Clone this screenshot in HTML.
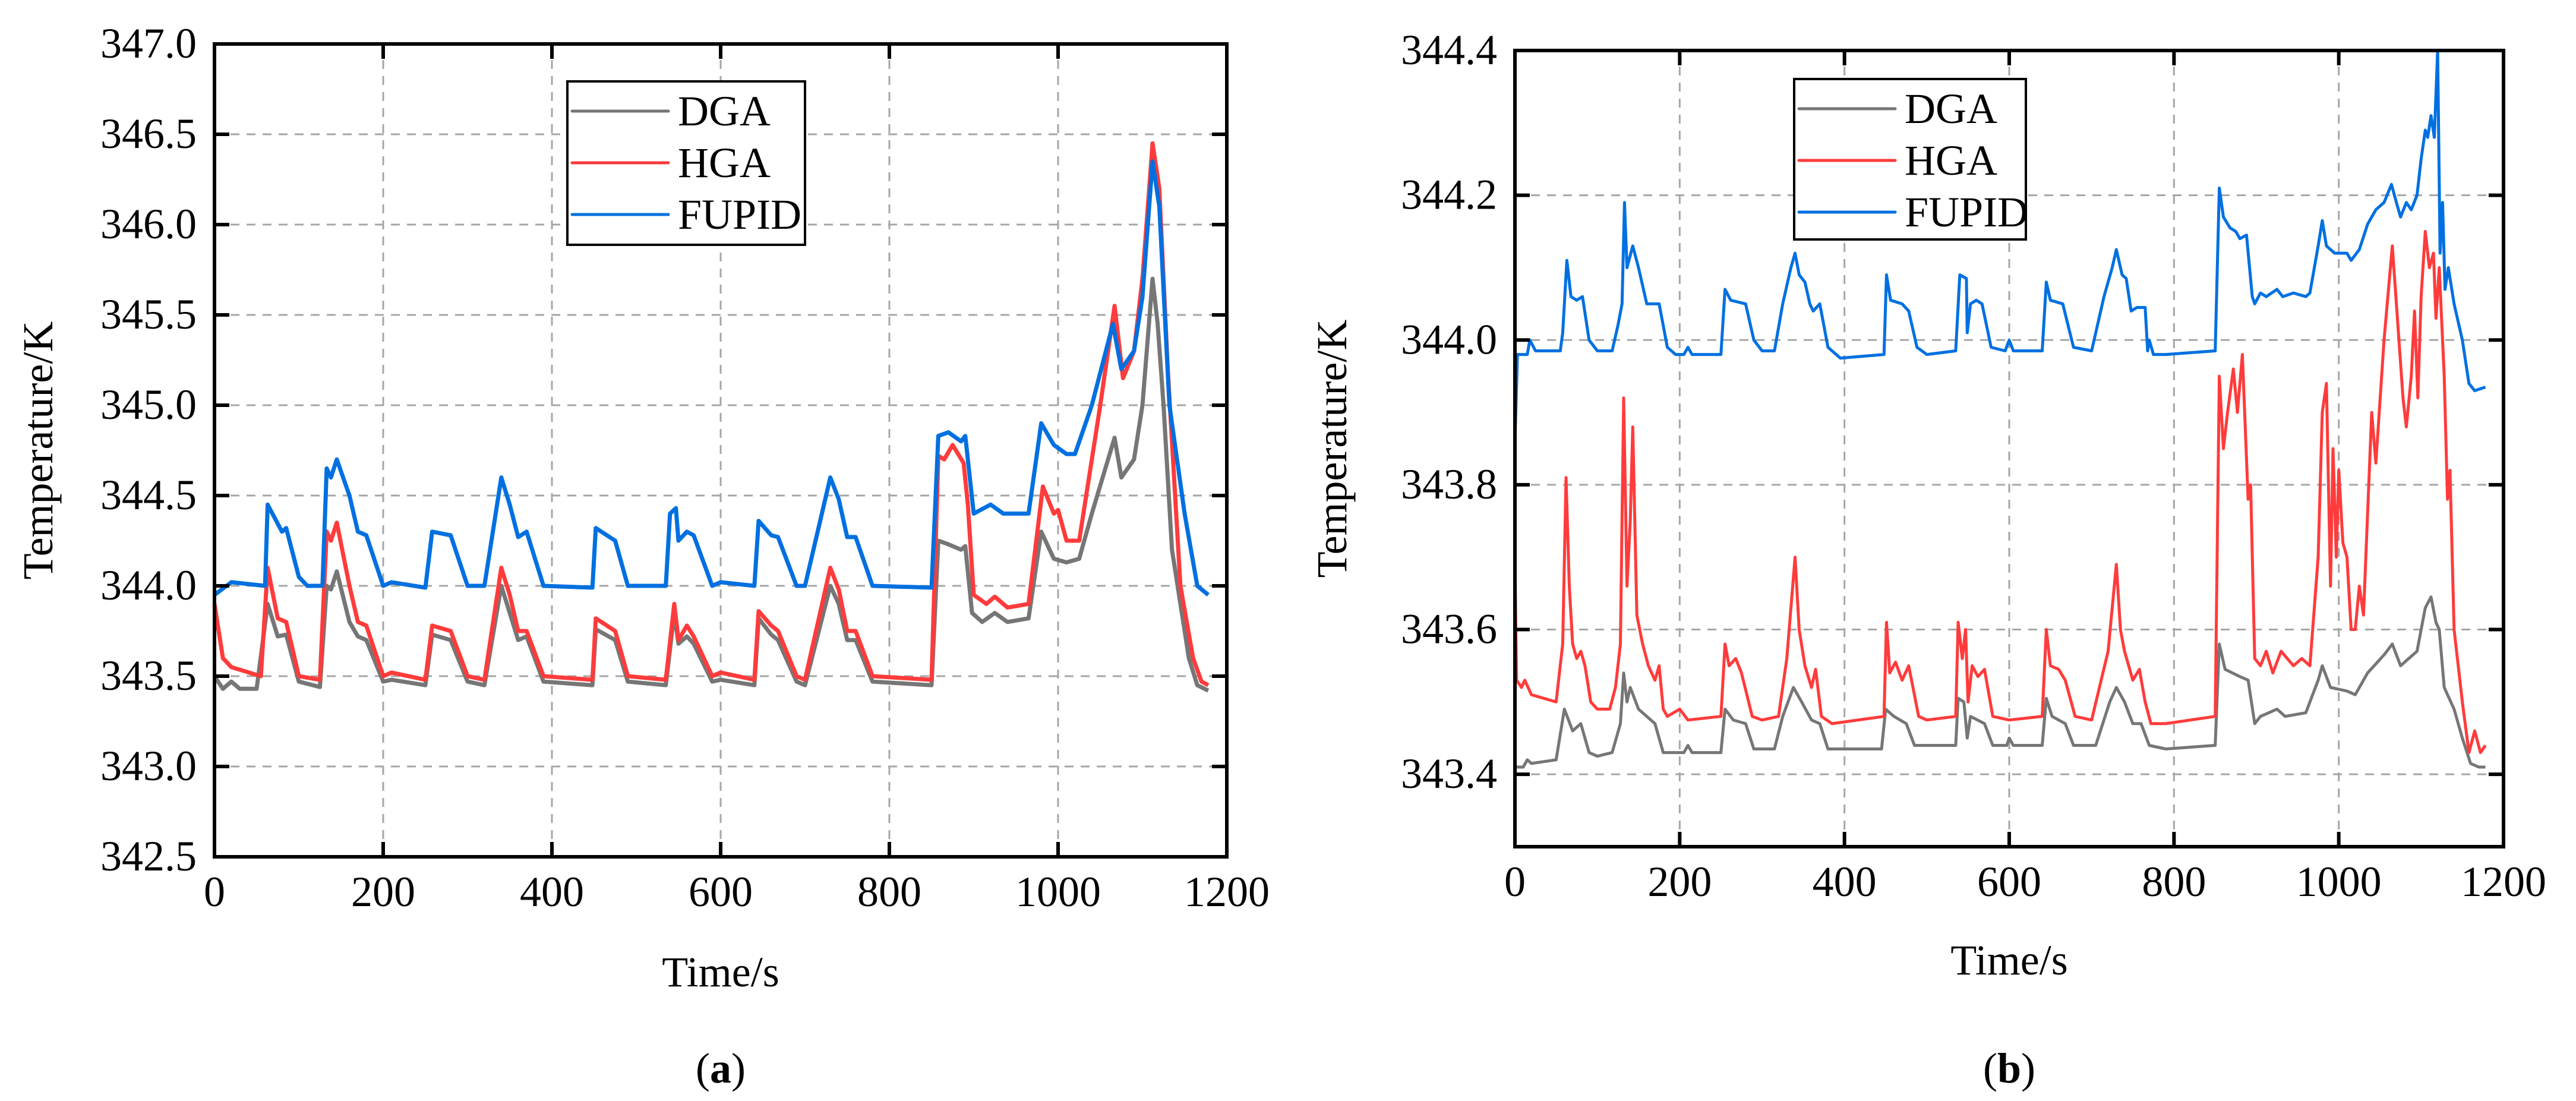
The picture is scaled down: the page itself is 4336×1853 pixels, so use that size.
<!DOCTYPE html>
<html><head><meta charset="utf-8"><style>
html,body{margin:0;padding:0;background:#fff;}
svg{display:block;font-family:"Liberation Serif","DejaVu Serif",serif;}
</style></head><body>
<svg id="fig" width="4336" height="1853" viewBox="0 0 4336 1853" xmlns="http://www.w3.org/2000/svg"></svg>
<script>
// ---- Panel (a) data ----
const aXTicks = [0,200,400,600,800,1000,1200];
const aYTicks = [342.5,343.0,343.5,344.0,344.5,345.0,345.5,346.0,346.5,347.0];
const aYLabels = ["342.5","343.0","343.5","344.0","344.5","345.0","345.5","346.0","346.5","347.0"];
const aDgaT = [0,10,20,30,50,63,75,85,100,125,133,138,145,160,170,180,200,210,250,258,280,300,320,340,350,360,370,390,448,452,475,490,535,545,550,560,568,590,600,640,645,660,668,690,700,730,740,750,760,780,850,858,870,885,890,898,910,925,940,965,980,995,1010,1025,1040,1067,1075,1090,1100,1112,1118,1125,1135,1155,1165,1178];
const aDgaV = [343.5,343.43,343.47,343.43,343.43,343.9,343.72,343.73,343.47,343.44,344.0,343.98,344.08,343.8,343.72,343.7,343.47,343.48,343.45,343.73,343.7,343.47,343.45,344.0,343.85,343.7,343.72,343.47,343.45,343.76,343.7,343.47,343.45,343.85,343.68,343.72,343.68,343.47,343.48,343.45,343.82,343.73,343.7,343.47,343.45,344.0,343.9,343.7,343.7,343.47,343.45,344.25,344.23,344.2,344.22,343.85,343.8,343.85,343.8,343.82,344.3,344.15,344.13,344.15,344.4,344.82,344.6,344.7,345.0,345.7,345.45,345.0,344.2,343.6,343.45,343.42];
const aHgaT = [0,10,20,55,63,75,85,100,125,133,138,145,160,170,180,200,210,250,258,280,300,320,340,350,360,370,390,448,452,475,490,535,545,550,560,568,590,600,640,645,660,668,690,700,730,740,750,760,780,850,858,865,875,888,893,900,915,925,940,965,982,995,1000,1010,1025,1040,1050,1067,1077,1090,1100,1108,1112,1120,1130,1145,1160,1170,1178];
const aHgaV = [343.9,343.6,343.55,343.5,344.1,343.82,343.8,343.5,343.48,344.3,344.25,344.35,344.0,343.8,343.78,343.5,343.52,343.48,343.78,343.75,343.5,343.48,344.1,343.95,343.75,343.75,343.5,343.48,343.82,343.75,343.5,343.48,343.9,343.7,343.78,343.72,343.5,343.52,343.48,343.86,343.78,343.75,343.5,343.48,344.1,343.98,343.75,343.75,343.5,343.48,344.72,344.7,344.78,344.68,344.45,343.95,343.9,343.94,343.88,343.9,344.55,344.4,344.42,344.25,344.25,344.7,345.0,345.55,345.15,345.3,345.7,346.2,346.45,346.2,345.2,344.0,343.6,343.47,343.45];
const aFupT = [0,20,60,63,80,85,100,110,128,133,138,145,160,170,180,200,210,250,258,280,300,320,340,350,360,370,390,448,452,475,490,535,540,547,550,560,568,590,600,640,645,660,668,690,700,730,740,750,760,780,850,858,870,885,890,900,920,935,965,980,995,1010,1020,1040,1065,1075,1090,1100,1112,1120,1132,1150,1165,1178];
const aFupV = [343.95,344.02,344.0,344.45,344.3,344.32,344.05,344.0,344.0,344.65,344.6,344.7,344.5,344.3,344.28,344.0,344.02,343.99,344.3,344.28,344.0,344.0,344.6,344.45,344.27,344.3,344.0,343.99,344.32,344.25,344.0,344.0,344.4,344.43,344.25,344.3,344.28,344.0,344.02,344.0,344.36,344.28,344.27,344.0,344.0,344.6,344.48,344.27,344.27,344.0,343.99,344.83,344.85,344.8,344.83,344.4,344.45,344.4,344.4,344.9,344.78,344.73,344.73,345.0,345.45,345.2,345.3,345.6,346.35,346.1,345.0,344.4,344.0,343.95];

// ---- Panel (b) data ----
const bXTicks = [0,200,400,600,800,1000,1200];
const bYTicks = [343.4,343.6,343.8,344.0,344.2,344.4];
const bYLabels = ["343.4","343.6","343.8","344.0","344.2","344.4"];
const bDgaT = [0,10,15,20,50,60,70,80,90,100,118,128,132,136,140,150,170,180,205,210,215,250,255,265,280,290,315,325,338,348,360,370,380,445,450,460,475,485,535,538,545,549,553,570,580,597,600,605,640,645,652,668,678,705,722,730,740,750,760,770,790,850,855,862,880,890,898,905,925,935,960,975,980,990,1010,1020,1035,1055,1065,1075,1085,1095,1105,1112,1118,1122,1128,1140,1150,1160,1170,1178];
const bDgaV = [343.41,343.41,343.42,343.415,343.42,343.49,343.46,343.47,343.43,343.425,343.43,343.47,343.54,343.5,343.52,343.49,343.47,343.43,343.43,343.44,343.43,343.43,343.49,343.475,343.47,343.435,343.435,343.48,343.52,343.5,343.475,343.47,343.435,343.435,343.49,343.48,343.47,343.44,343.44,343.505,343.5,343.45,343.48,343.47,343.44,343.44,343.45,343.44,343.44,343.505,343.48,343.47,343.44,343.44,343.5,343.52,343.5,343.47,343.47,343.44,343.435,343.44,343.58,343.545,343.535,343.53,343.47,343.48,343.49,343.48,343.485,343.53,343.55,343.52,343.515,343.51,343.54,343.565,343.58,343.55,343.56,343.57,343.63,343.645,343.61,343.6,343.52,343.49,343.45,343.415,343.41,343.41];
const bHgaT = [0,2,8,12,20,50,58,62,66,70,75,80,85,92,100,115,122,128,132,136,140,143,148,155,162,170,175,180,185,200,210,250,255,260,268,275,288,300,320,330,340,345,352,360,365,372,385,448,451,455,462,470,478,490,500,535,538,543,547,550,555,562,570,580,600,640,645,650,660,668,680,700,720,730,735,740,750,758,765,772,790,850,855,860,865,872,877,883,890,893,898,905,912,920,930,945,955,965,975,980,985,990,993,997,1000,1005,1010,1015,1020,1025,1030,1040,1045,1055,1065,1070,1078,1082,1088,1092,1096,1100,1105,1110,1115,1118,1122,1128,1132,1135,1140,1150,1158,1165,1172,1178];
const bHgaV = [343.69,343.53,343.52,343.53,343.51,343.5,343.58,343.81,343.66,343.58,343.56,343.57,343.55,343.5,343.49,343.49,343.52,343.58,343.92,343.66,343.75,343.88,343.62,343.58,343.55,343.53,343.55,343.49,343.48,343.49,343.475,343.48,343.58,343.55,343.56,343.54,343.48,343.475,343.48,343.56,343.7,343.6,343.55,343.52,343.545,343.48,343.47,343.48,343.61,343.54,343.555,343.53,343.55,343.48,343.475,343.48,343.61,343.56,343.6,343.5,343.55,343.535,343.545,343.48,343.475,343.48,343.6,343.55,343.545,343.53,343.48,343.475,343.57,343.69,343.6,343.57,343.53,343.545,343.5,343.47,343.47,343.48,343.95,343.85,343.9,343.96,343.9,343.98,343.78,343.8,343.56,343.55,343.57,343.54,343.57,343.55,343.56,343.55,343.7,343.9,343.94,343.66,343.85,343.7,343.82,343.72,343.7,343.6,343.6,343.66,343.62,343.9,343.83,344.0,344.13,344.05,343.92,343.88,343.95,344.04,343.92,344.06,344.15,344.1,344.12,344.03,344.1,343.95,343.78,343.82,343.6,343.5,343.43,343.46,343.43,343.44];
const bFupT = [0,3,15,18,25,55,58,63,68,75,82,90,100,118,125,130,133,136,143,150,160,175,185,195,205,210,215,250,255,262,280,290,300,315,325,335,340,345,352,358,362,370,380,395,448,451,456,470,478,488,500,535,540,548,549,553,560,567,578,595,600,605,640,645,650,665,678,700,715,725,730,737,742,748,755,765,768,770,775,790,850,855,860,868,875,880,888,895,898,905,912,925,932,945,960,965,975,980,985,995,1010,1015,1025,1035,1045,1055,1064,1070,1075,1082,1088,1095,1100,1105,1108,1112,1116,1120,1123,1126,1129,1133,1140,1150,1158,1165,1178];
const bFupV = [343.86,343.98,343.98,344.0,343.985,343.985,344.01,344.11,344.06,344.055,344.06,344.0,343.985,343.985,344.02,344.05,344.19,344.1,344.13,344.1,344.05,344.05,343.99,343.98,343.98,343.99,343.98,343.98,344.07,344.055,344.05,344.0,343.985,343.985,344.05,344.1,344.12,344.09,344.08,344.05,344.04,344.05,343.99,343.975,343.98,344.09,344.055,344.05,344.04,343.99,343.98,343.985,344.09,344.085,344.01,344.05,344.055,344.05,343.99,343.985,344.0,343.985,343.985,344.08,344.055,344.05,343.99,343.985,344.06,344.1,344.125,344.09,344.085,344.04,344.045,344.045,343.985,344.0,343.98,343.98,343.985,344.21,344.17,344.155,344.15,344.14,344.145,344.06,344.05,344.065,344.06,344.07,344.06,344.065,344.06,344.065,344.13,344.165,344.13,344.12,344.12,344.11,344.125,344.16,344.18,344.19,344.215,344.19,344.17,344.19,344.18,344.2,344.25,344.29,344.28,344.31,344.28,344.4,344.12,344.19,344.07,344.1,344.05,344.0,343.94,343.93,343.935];

const NS = "http://www.w3.org/2000/svg";
const svg = document.getElementById('fig');
function mk(tag, attrs, parent){
  const e = document.createElementNS(NS, tag);
  for (const k in attrs) e.setAttribute(k, attrs[k]);
  (parent||svg).appendChild(e);
  return e;
}
const COLORS = {dga:"#767676", hga:"#ff3b3b", fup:"#0070e0"};

function panel(cfg){
  const g = mk('g', {});
  
  
  const sx = v => cfg.x0 + (v - cfg.xmin) / (cfg.xmax - cfg.xmin) * (cfg.x1 - cfg.x0);
  const sy = v => cfg.y1 - (v - cfg.ymin) / (cfg.ymax - cfg.ymin) * (cfg.y1 - cfg.y0);
  cfg.xTicks.forEach(t => {
    if (t === cfg.xmin || t === cfg.xmax) return;
    const l = mk('line', {x1:sx(t), x2:sx(t), y1:cfg.y0, y2:cfg.y1, stroke:"#a6a6a6", 'stroke-width':3, 'stroke-dasharray':"15 12"}, g);
    
    
  });
  cfg.yTicks.forEach(t => {
    if (Math.abs(t - cfg.ymin) < 1e-9 || Math.abs(t - cfg.ymax) < 1e-9) return;
    const l = mk('line', {x1:cfg.x0, x2:cfg.x1, y1:sy(t), y2:sy(t), stroke:"#a6a6a6", 'stroke-width':3, 'stroke-dasharray':"15 12"}, g);
    
    
  });
  cfg.series.forEach(s => {
    let d = '';
    s.t.forEach((t, i) => { d += (i ? 'L' : 'M') + sx(t).toFixed(1) + ' ' + sy(s.v[i]).toFixed(1); });
    const p = mk('path', {d:d, fill:'none', stroke:s.color, 'stroke-width':cfg.lw, 'stroke-linejoin':'round'}, g);
    
    
  });
  const fr = mk('rect', {x:cfg.x0, y:cfg.y0, width:cfg.x1-cfg.x0, height:cfg.y1-cfg.y0, fill:'none', stroke:'#000', 'stroke-width':6}, g);
  
  
  cfg.xTicks.forEach(t => {
    const x = sx(t);
    mk('line', {x1:x, x2:x, y1:cfg.y1, y2:cfg.y1-25, stroke:'#000', 'stroke-width':6}, g);
    mk('line', {x1:x, x2:x, y1:cfg.y0, y2:cfg.y0+25, stroke:'#000', 'stroke-width':6}, g);
    const tx = mk('text', {x:x, y:cfg.y1+83, 'font-size':72, 'text-anchor':'middle'}, g);
    tx.textContent = String(t);
    
    
  });
  cfg.yTicks.forEach((t, i) => {
    const y = sy(t);
    mk('line', {x1:cfg.x0, x2:cfg.x0+25, y1:y, y2:y, stroke:'#000', 'stroke-width':6}, g);
    mk('line', {x1:cfg.x1, x2:cfg.x1-25, y1:y, y2:y, stroke:'#000', 'stroke-width':6}, g);
    const tx = mk('text', {x:cfg.x0-30, y:y+23, 'font-size':72, 'text-anchor':'end'}, g);
    tx.textContent = cfg.yLabels[i];
    
    
  });
  const yt = mk('text', {x:0, y:0, 'font-size':72, 'text-anchor':'middle', transform:`translate(${cfg.ytX},${(cfg.y0+cfg.y1)/2}) rotate(-90)`}, g);
  yt.textContent = 'Temperature/K';
  
  
  const xt = mk('text', {x:(cfg.x0+cfg.x1)/2, y:cfg.xtY, 'font-size':72, 'text-anchor':'middle'}, g);
  xt.textContent = 'Time/s';
  
  
  const L = cfg.legend;
  const lg = mk('g', {}, g);
  
  
  mk('rect', {x:L.x, y:L.y, width:L.w, height:L.h, fill:'#fff', stroke:'#000', 'stroke-width':4}, lg);
  cfg.series.forEach((s, i) => {
    const y = L.y + 50 + i * 87;
    const e = mk('g', {}, lg);
    
    
    mk('line', {x1:L.x+8, x2:L.x+170, y1:y, y2:y, stroke:s.color, 'stroke-width':5, 'stroke-linecap':'round'}, e);
    const t = mk('text', {x:L.x+186, y:y+24, 'font-size':72}, e);
    t.textContent = s.label;
  });
  const cap = mk('text', {x:(cfg.x0+cfg.x1)/2, y:1822, 'font-size':72, 'text-anchor':'middle'}, g);
  cap.innerHTML = '(<tspan font-weight="bold">' + cfg.cap + '</tspan>)';
  
  
}

panel({name:'chart-a', x0:361, x1:2065, y0:74, y1:1442, xmin:0, xmax:1200, ymin:342.5, ymax:347.0,
  xTicks:aXTicks, yTicks:aYTicks, yLabels:aYLabels, lw:7, ytX:88, xtY:1660, cap:'a',
  legend:{x:955, y:137, w:400, h:275},
  series:[
    {name:'dga-line', label:'DGA', color:COLORS.dga, t:aDgaT, v:aDgaV},
    {name:'hga-line', label:'HGA', color:COLORS.hga, t:aHgaT, v:aHgaV},
    {name:'fupid-line', label:'FUPID', color:COLORS.fup, t:aFupT, v:aFupV}
  ]});
panel({name:'chart-b', x0:2550, x1:4214, y0:85, y1:1425, xmin:0, xmax:1200, ymin:343.3, ymax:344.4,
  xTicks:bXTicks, yTicks:bYTicks, yLabels:bYLabels, lw:5, ytX:2266, xtY:1640, cap:'b',
  legend:{x:3020, y:133, w:390, h:270},
  series:[
    {name:'dga-line', label:'DGA', color:COLORS.dga, t:bDgaT, v:bDgaV},
    {name:'hga-line', label:'HGA', color:COLORS.hga, t:bHgaT, v:bHgaV},
    {name:'fupid-line', label:'FUPID', color:COLORS.fup, t:bFupT, v:bFupV}
  ]});
</script>
</body></html>
